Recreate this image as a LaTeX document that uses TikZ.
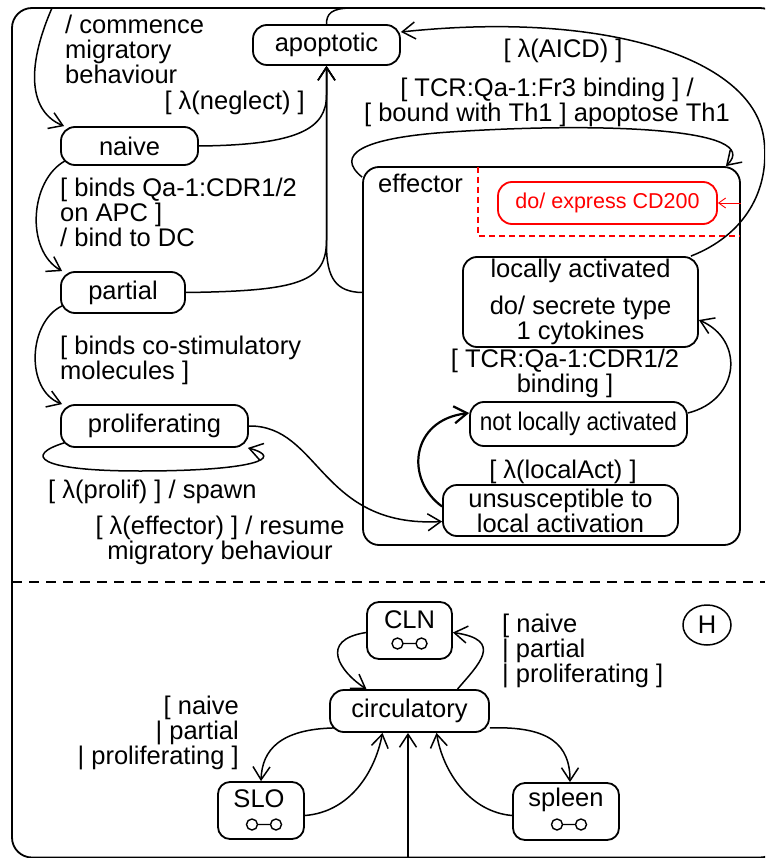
\documentclass[tikz,border=0pt]{standalone}
\usepackage{fontspec}
\setmainfont{Liberation Sans}
\newfontfamily\narrowsans[FakeStretch=0.886]{Liberation Sans}
\usetikzlibrary{arrows.meta,shapes.geometric,calc}
\newcommand\dfont{\fontsize{25.5}{25}\selectfont}
\newcommand\sfont{\fontsize{21.5}{25}\selectfont}
\newcommand\nfont{\narrowsans\fontsize{25.5}{25}\selectfont}

\begin{document}
\begin{tikzpicture}[x=1pt,y=-1pt,
  st/.style={draw, line width=1.8pt, rounded corners=14pt, inner sep=0pt, font=\dfont, align=center},
  tr/.style={line width=1.5pt, -{Straight Barb[length=13pt,width=17pt]}},
  lbl/.style={font=\dfont, inner sep=0pt},
  icon/.style={line width=1.4pt},
]
\useasboundingbox (0,0) rectangle (765,858);
\clip (0,0) rectangle (765,858);

% enclosing state and the region separator
\draw[line width=1.8pt, rounded corners=20pt] (12,8) rectangle (780,857.5);
\draw[line width=1.5pt, dash pattern=on 10pt off 7pt] (12,582) -- (765,582);

% ---------- upper region: life cycle ----------
\node[st, minimum width=147pt, minimum height=40pt] (apop) at (326.5,45) {apoptotic};
\node[st, minimum width=137pt, minimum height=38pt] (naive) at (129.5,146) {naive};
\node[st, minimum width=124pt, minimum height=41pt] (partial) at (123,292.5) {partial};
\node[st, minimum width=187pt, minimum height=42pt] (prolif) at (154.5,426) {proliferating};

\node[draw, line width=1.8pt, rounded corners=16pt, minimum width=377pt, minimum height=378pt, inner sep=0pt] (eff) at (551.5,356) {};
\node[lbl, anchor=base west] (efflbl) at (378,193) {effector};

\draw[red, line width=1.1pt, dash pattern=on 6pt off 4pt] (478,167) -- (478,236) -- (740,236);
\node[st, draw=red, text=red, font=\sfont, minimum width=219pt, minimum height=42pt] (cd200) at (607.5,203) {do/ express CD200};
\draw[red, line width=0.9pt, -{Straight Barb[length=7pt,width=10pt]}] (eff.east |- cd200.east) -- (cd200.east);

\node[st, minimum width=235pt, minimum height=90pt] (locact) at (580.5,302) {locally activated\\[12pt]do/ secrete type\\1 cytokines};
\node[st, font=\nfont, minimum width=217pt, minimum height=44pt] (notloc) at (578.5,424) {not locally activated};
\node[st, minimum width=235pt, minimum height=51pt] (unsus) at (560.5,510.5) {unsusceptible to\\local activation};

% entry into naive from the enclosing border
\coordinate (entryL) at (52,8);
\draw[tr] (entryL) .. controls (25,70) and (30,112) .. ([xshift=4pt]naive.north west);
\node[lbl, anchor=north west, align=left] (lcommence) at (65,15) {/ commence\\migratory\\behaviour};

% apoptotic to the enclosing border
\coordinate (exitA) at (352,8);
\draw[line width=1.5pt] (apop.north) .. controls (326.5,14) and (331,8) .. (exitA);

% transitions into apoptotic
\draw[tr] (naive.east) .. controls (300,145) and (326.5,128) .. (326.5,95) -- (apop.south);
\node[lbl, anchor=base east] (lneglect) at (305,110) {[ λ(neglect) ]};
\draw[tr] (partial.east) .. controls (300,291) and (326.5,282) .. (326.5,240) -- (apop.south);
\draw[tr] (eff.west |- partial.east) .. controls (336,292) and (326.5,278) .. (326.5,245) -- (apop.south);

\draw[tr] ([xshift=-8pt]locact.north east) .. controls (745,235) and (770,190) .. (764,140)
  .. controls (755,60) and (610,10) .. ([yshift=13pt]apop.east);
\node[lbl, anchor=base] (laicd) at (563,58) {[ λ(AICD) ]};

% effector self transition
\draw[tr] ([yshift=-11pt]eff.north west) .. controls (335,155) and (360,138) .. (450,132)
  .. controls (600,122) and (765,128) .. ([xshift=-15pt]eff.north east);
\node[lbl, anchor=north, align=center] (lth1) at (547,78) {[ TCR:Qa-1:Fr3 binding ] /\\{}[ bound with Th1 ] apoptose Th1};

% naive -> partial -> proliferating
\draw[tr] ([xshift=5pt,yshift=5pt]naive.south west) .. controls (30,180) and (25,250) .. ([xshift=2pt]partial.north west);
\node[lbl, anchor=north west, align=left] (lbind) at (60,178) {[ binds Qa-1:CDR1/2\\on APC ]\\/ bind to DC};
\draw[tr] ([xshift=2pt,yshift=8pt]partial.south west) .. controls (28,322) and (25,390) .. ([xshift=2pt]prolif.north west);
\node[lbl, anchor=north west, align=left] (lcostim) at (60,336) {[ binds co-stimulatory\\molecules ]};

% proliferating self transition
\draw[tr] ([xshift=4pt,yshift=5pt]prolif.south west) .. controls (25,455) and (35,471) .. (140,471)
  .. controls (255,471) and (285,458) .. ([xshift=-1pt]prolif.south east);
\node[lbl, anchor=base west] (lprolif) at (48,498) {[ λ(prolif) ] / spawn};

% proliferating -> effector
\draw[tr] (prolif.east) .. controls (320,425) and (320,528) .. ([yshift=-11pt]unsus.west);
\node[lbl, anchor=north, align=center] (leffector) at (220,516) {[ λ(effector) ] / resume\\migratory behaviour};

% inside effector
\draw[tr, line width=2.2pt] ([yshift=4pt]unsus.west) .. controls (405,480) and (410,420) .. ([yshift=11pt]notloc.west);
\node[lbl, anchor=base] (llocal) at (563,478) {[ λ(localAct) ]};
\draw[tr] ([yshift=11pt]notloc.east) .. controls (740,400) and (745,340) .. ([yshift=-18pt]locact.east);
\node[lbl, anchor=north, align=center] (lcdr) at (565,349) {[ TCR:Qa-1:CDR1/2\\binding ]};

% ---------- lower region: location ----------
\node[st, rounded corners=12pt, minimum width=85pt, minimum height=57pt] (cln) at (409.5,630.5) {};
\node[lbl, anchor=base] (clntxt) at (409.5,628) {CLN};
\draw[icon] ($(cln.center)+(-12,13)$) circle[radius=5.5pt] ++(5.5,0) -- ++(13,0) ++(5.5,0) circle[radius=5.5pt];

\node[st, minimum width=159pt, minimum height=42pt] (circ) at (409.5,711) {circulatory};

\node[st, rounded corners=12pt, minimum width=86pt, minimum height=57pt] (slo) at (261,810.5) {};
\node[lbl, anchor=base] (slotxt) at (259,807) {SLO};
\draw[icon] ($(slo.center)+(-9,14)$) circle[radius=5.5pt] ++(5.5,0) -- ++(13,0) ++(5.5,0) circle[radius=5.5pt];

\node[st, rounded corners=12pt, minimum width=106pt, minimum height=57pt] (spleen) at (566,811.5) {};
\node[lbl, anchor=base] (spleentxt) at (566,806) {spleen};
\draw[icon] ($(spleen.center)+(-9,13)$) circle[radius=5.5pt] ++(5.5,0) -- ++(13,0) ++(5.5,0) circle[radius=5.5pt];

\node[draw, ellipse, line width=1.5pt, minimum width=48pt, minimum height=40pt, inner sep=0pt, font=\dfont] (hist) at (707,625) {H};

% location transitions
\draw[tr] ([yshift=-2pt]cln.west) .. controls (318,640) and (340,672) .. ([xshift=-43pt]circ.north);
\draw[tr] ([xshift=48pt]circ.north) .. controls (478,665) and (505,640) .. ([yshift=-2pt]cln.east);
\node[lbl, anchor=north west, align=left] (lcln) at (502,614) {[ naive\\| partial\\| proliferating ]};

\draw[tr] ([xshift=6pt,yshift=5pt]circ.south west) .. controls (280,729) and (262,750) .. (slo.north);
\draw[tr] ([yshift=-5pt]slo.east) .. controls (350,812) and (375,772) .. ([xshift=-27pt]circ.south);
\node[lbl, anchor=north east, align=right] (lslo) at (239,696) {[ naive\\| partial\\| proliferating ]};

\draw[tr] ([yshift=5pt]circ.south east) .. controls (550,726) and (570,745) .. ([xshift=4pt]spleen.north);
\draw[tr] ([yshift=-4pt]spleen.west) .. controls (470,812) and (443,772) .. ([xshift=27pt]circ.south);

\coordinate (entryB) at (408,858);
\draw[tr] (entryB) -- (entryB |- circ.south);

\end{tikzpicture}
\end{document}
